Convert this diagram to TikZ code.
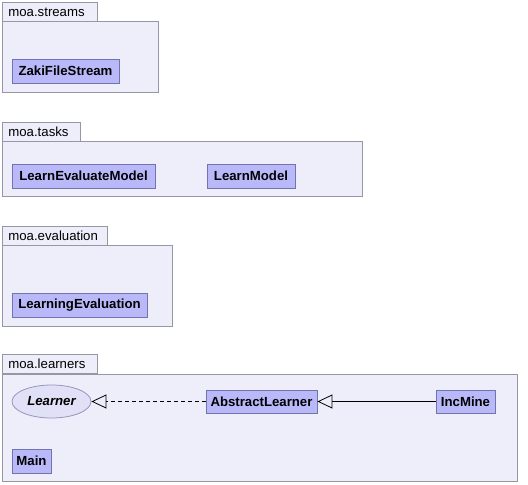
\documentclass[tikz,border=0pt]{standalone}
\usepackage{fontspec}
\setmainfont{Liberation Sans}
\usetikzlibrary{arrows.meta,shapes.geometric}
\definecolor{pkgfill}{RGB}{238,238,251}
\definecolor{pkgline}{RGB}{150,150,165}
\definecolor{clsfill}{RGB}{185,185,250}
\definecolor{clsline}{RGB}{115,115,175}
\definecolor{ifcfill}{RGB}{224,224,246}
\definecolor{ifcline}{RGB}{150,150,190}
\begin{document}
\begin{tikzpicture}
[x=1pt,y=-1pt,line width=0.8pt,
pkg/.style = {draw=pkgline,fill=pkgfill,anchor=north west,inner sep=0pt},
pkgtab/.style = {pkg,minimum height=19pt,inner xsep=6pt,align=left,font=\fontsize{13.2}{15}\selectfont},
cls/.style = {draw=clsline,fill=clsfill,minimum height=24pt,inner sep=2pt,font=\bfseries\fontsize{13.2}{15}\selectfont},
ifc/.style = {ellipse,draw=ifcline,fill=ifcfill,minimum width=79pt,minimum height=33pt,inner sep=0pt,font=\bfseries\itshape\fontsize{13.2}{15}\selectfont},
real/.style = {dashed,dash pattern=on 4pt off 3pt,-{Triangle[open,length=15pt,width=14pt,line width=0.8pt]}},
ext/.style = {-{Triangle[open,length=15pt,width=14pt,line width=0.8pt]}}]
\useasboundingbox (0,0) rectangle (528,485);
\node[pkgtab,text width=83pt] (streamstab) at (2,2) {moa.streams};
\node[pkg,minimum width=156pt,minimum height=71pt] (streams) at (2,21) {};
\node[pkgtab,text width=66pt] (taskstab) at (2,122) {moa.tasks};
\node[pkg,minimum width=360pt,minimum height=55pt] (tasks) at (2,141) {};
\node[pkgtab,text width=93pt] (evaltab) at (2,226) {moa.evaluation};
\node[pkg,minimum width=170pt,minimum height=81pt] (eval) at (2,245) {};
\node[pkgtab,text width=83pt] (learnerstab) at (2,354) {moa.learners};
\node[pkg,minimum width=515pt,minimum height=107pt] (learners) at (2,374) {};
\node[cls,minimum width=107pt] (zaki) at (65.5,71) {ZakiFileStream};
\node[cls,minimum width=143pt] (lem) at (83.5,176) {LearnEvaluateModel};
\node[cls,minimum width=88pt] (lm) at (251,176) {LearnModel};
\node[cls,minimum width=135pt] (le) at (79.5,305) {LearningEvaluation};
\node[ifc] (learner) at (51.5,401.5) {Learner};
\node[cls,minimum width=111pt,minimum height=23pt] (abstract) at (261.5,401.5) {AbstractLearner};
\node[cls,minimum width=59pt,minimum height=23pt] (incmine) at (465.5,401.5) {IncMine};
\node[cls,minimum width=39pt] (main) at (31.5,461) {Main};
\draw[real] (abstract) -- (learner);
\draw[ext] (incmine) -- (abstract);
\end{tikzpicture}
\end{document}
